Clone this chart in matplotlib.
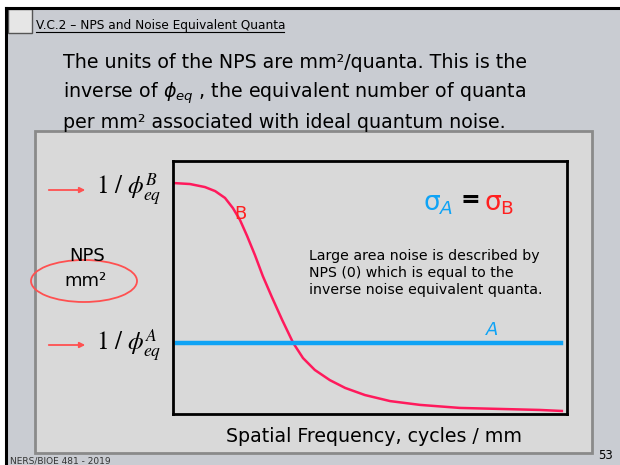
import numpy as np
import matplotlib.pyplot as plt
from matplotlib.patches import Rectangle, Ellipse

# NPS curve of detector B (falls off with frequency) and flat NPS of detector A
freq_b = [0.0, 0.43, 0.81, 1.07, 1.32, 1.52, 1.70, 1.88, 2.08, 2.28, 2.51, 2.77, 3.05, 3.30,
          3.60, 3.98, 4.37, 4.87, 5.51, 6.27, 7.28, 8.30, 9.31, 9.87]
nps_b = [9.13, 9.09, 8.97, 8.81, 8.54, 8.14, 7.67, 7.04, 6.28, 5.45, 4.62, 3.72, 2.81, 2.21,
         1.74, 1.34, 1.03, 0.75, 0.51, 0.36, 0.24, 0.20, 0.16, 0.12]
freq_a = [0.1, 9.86]
nps_a = [2.79, 2.79]

red = '#ff1a5c'
blue = '#0fa3f5'

fig = plt.figure(figsize=(6.2, 4.65), dpi=100)
fig.patch.set_facecolor('white')

# slide background, drawn in pixel units
bg = fig.add_axes([0, 0, 1, 1])
bg.set_xlim(0, 620)
bg.set_ylim(465, 0)
bg.axis('off')
bg.add_patch(Rectangle((6, 8), 614, 460, facecolor='#c9ccd2', edgecolor='none'))
bg.plot([6, 618], [8, 8], color='black', lw=2.2)
bg.plot([6, 6], [8, 465], color='black', lw=2.2)
bg.add_patch(Rectangle((8, 9), 24, 24, facecolor='#e6e6e6', edgecolor='#555555', lw=1))
bg.add_patch(Rectangle((35, 131), 557, 322, facecolor='#d9d9d9', edgecolor='#8a8a8a', lw=2))

bg.text(36, 25, 'V.C.2 – NPS and Noise Equivalent Quanta', fontsize=8.7, va='center', ha='left')
bg.plot([36, 284], [32, 32], color='black', lw=0.8)

body = ['The units of the NPS are mm²/quanta. This is the',
        r'inverse of $\phi_{eq}$ , the equivalent number of quanta',
        'per mm² associated with ideal quantum noise.']
for i, line in enumerate(body):
    bg.text(63, 68 + i * 30, line, fontsize=13.7, va='baseline', ha='left')

# y-axis annotations
for y, sup in [(190, 'B'), (345, 'A')]:
    bg.annotate('', xy=(88, y), xytext=(46, y),
                arrowprops=dict(arrowstyle='-|>', color='#ff5050', lw=1.3, mutation_scale=8))
    bg.text(96, y, r'$\mathit{1\ /\ }\phi^{%s}_{\mathit{eq}}$' % sup, fontsize=18,
            va='center', ha='left', math_fontfamily='stix')

bg.text(87, 256, 'NPS', fontsize=13, va='center', ha='center')
bg.text(85, 281, 'mm²', fontsize=13, va='center', ha='center')
bg.add_patch(Ellipse((84, 281), 106, 42, facecolor='none', edgecolor='#ff5050', lw=1.3))

bg.text(374, 436, 'Spatial Frequency, cycles / mm', fontsize=13.7, va='center', ha='center')
bg.text(613, 455, '53', fontsize=8.5, va='center', ha='right')
bg.text(10, 461, 'NERS/BIOE 481 - 2019', fontsize=6.5, va='center', ha='left', color='#333333')

ax = fig.add_axes([173 / 620, 51 / 465, 394 / 620, 253 / 465])
ax.set_facecolor('#d9d9d9')
ax.plot(freq_b, nps_b, color=red, lw=1.8)
ax.plot(freq_a, nps_a, color=blue, lw=3.2)
ax.set_xlim(0, 10)
ax.set_ylim(0, 10)
ax.set_xticks([])
ax.set_yticks([])
for s in ax.spines.values():
    s.set_linewidth(2)
    s.set_color('black')

ax.text(1.7, 7.9, 'B', color='#ff2020', fontsize=13, ha='center', va='center')
ax.text(8.1, 2.95, 'A', color=blue, fontsize=13, ha='center', va='bottom', style='italic')
ax.text(6.35, 8.3, r'$\mathrm{\sigma}_{\mathit{A}}$', color=blue, fontsize=19, ha='left', va='center')
ax.text(7.54, 8.45, '=', color='black', fontsize=17, ha='center', va='center', fontweight='bold')
ax.text(7.9, 8.3, r'$\mathrm{\sigma}_{\mathrm{B}}$', color='#ff2020', fontsize=19, ha='left', va='center')
ax.text(3.45, 5.58, 'Large area noise is described by\nNPS (0) which is equal to the\ninverse noise equivalent quanta.',
        fontsize=10.2, ha='left', va='center', linespacing=1.3)

fig.savefig('out.png', dpi=100)
